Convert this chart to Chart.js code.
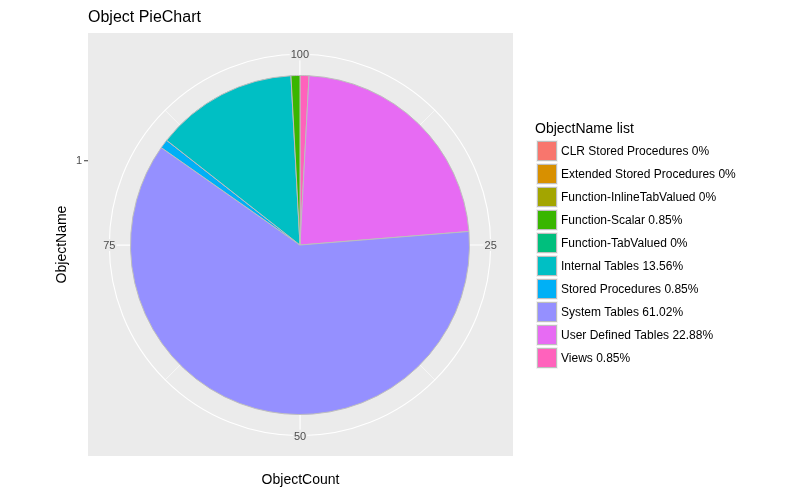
<!DOCTYPE html>
<html>
<head>
<meta charset="utf-8">
<title>Object PieChart</title>
<script src="https://cdn.jsdelivr.net/npm/chart.js@4/dist/chart.umd.min.js"></script>
<style>
    html, body { margin: 0; padding: 0; background: #fff; }
    canvas { display: block; }
</style>
</head>
<body>
<canvas id="mainChart" width="800" height="494"></canvas>
<script>
// Data, in legend order
const objectNames = [
    'CLR Stored Procedures',
    'Extended Stored Procedures',
    'Function-InlineTabValued',
    'Function-Scalar',
    'Function-TabValued',
    'Internal Tables',
    'Stored Procedures',
    'System Tables',
    'User Defined Tables',
    'Views'
];
const objectPercents = [0, 0, 0, 0.85, 0, 13.56, 0.85, 61.02, 22.88, 0.85];
const sliceColors = [
    '#F8766D', '#D89000', '#A3A500', '#39B600', '#00BF7D',
    '#00BFC4', '#00B0F6', '#9590FF', '#E76BF3', '#FF62BC'
];

// Axis breaks (theta = ObjectCount, radius = ObjectName)
const thetaBreaks = [25, 50, 75, 100];
const thetaMinorBreaks = [12.5, 37.5, 62.5, 87.5];
const radialBreakLabels = ['1'];

const PANEL = { left: 88, top: 33, right: 513, bottom: 456 };
const FONT = '"Liberation Sans", Arial, sans-serif';

// ggplot stacks the first level last, so the pie runs backwards from 12 o'clock
const pieLabels = objectNames.slice().reverse();
const pieValues = objectPercents.slice().reverse();
const pieColors = sliceColors.slice().reverse();
const total = objectPercents.reduce((a, b) => a + b, 0);

function geometry(chart) {
    const arc = chart.getDatasetMeta(0).data[0];
    const r = arc.outerRadius;
    return { cx: arc.x, cy: arc.y, r: r, rOuter: r * 0.45 / 0.4 };
}

function thetaAngle(v) {
    return v / total * Math.PI * 2 - Math.PI / 2;
}

const ggPanel = {
    id: 'ggPanel',
    beforeDatasetsDraw(chart) {
        const ctx = chart.ctx;
        const g = geometry(chart);
        ctx.save();
        ctx.fillStyle = '#EBEBEB';
        ctx.fillRect(PANEL.left, PANEL.top, PANEL.right - PANEL.left, PANEL.bottom - PANEL.top);

        ctx.strokeStyle = '#FFFFFF';
        // minor theta lines
        ctx.lineWidth = 0.6;
        thetaMinorBreaks.forEach(v => {
            const a = thetaAngle(v);
            ctx.beginPath();
            ctx.moveTo(g.cx, g.cy);
            ctx.lineTo(g.cx + Math.cos(a) * g.rOuter, g.cy + Math.sin(a) * g.rOuter);
            ctx.stroke();
        });
        // major theta lines
        ctx.lineWidth = 1.1;
        thetaBreaks.forEach(v => {
            const a = thetaAngle(v);
            ctx.beginPath();
            ctx.moveTo(g.cx, g.cy);
            ctx.lineTo(g.cx + Math.cos(a) * g.rOuter, g.cy + Math.sin(a) * g.rOuter);
            ctx.stroke();
        });
        // radial grid circles
        ctx.beginPath();
        ctx.arc(g.cx, g.cy, g.r * 0.5, 0, Math.PI * 2);
        ctx.stroke();
        ctx.beginPath();
        ctx.arc(g.cx, g.cy, g.rOuter, 0, Math.PI * 2);
        ctx.stroke();
        ctx.restore();
    },
    afterDatasetsDraw(chart) {
        const ctx = chart.ctx;
        const g = geometry(chart);
        ctx.save();

        // theta tick labels sit on the outer circle
        ctx.font = '11px ' + FONT;
        ctx.textAlign = 'center';
        ctx.textBaseline = 'middle';
        thetaBreaks.forEach(v => {
            const a = thetaAngle(v);
            const x = g.cx + Math.cos(a) * g.rOuter;
            const y = g.cy + Math.sin(a) * g.rOuter;
            const txt = String(v);
            const w = ctx.measureText(txt).width;
            ctx.fillStyle = '#EBEBEB';
            ctx.fillRect(x - w / 2 - 1, y - 6, w + 2, 12);
            ctx.fillStyle = '#4D4D4D';
            ctx.fillText(txt, x, y + 1);
        });

        // radial axis (ObjectName) on the left
        radialBreakLabels.forEach((lab, i) => {
            const y = g.cy - g.r * 0.5 * (i + 1);
            ctx.strokeStyle = '#333333';
            ctx.lineWidth = 1;
            ctx.beginPath();
            ctx.moveTo(PANEL.left - 4, y + 0.5);
            ctx.lineTo(PANEL.left, y + 0.5);
            ctx.stroke();
            ctx.fillStyle = '#4D4D4D';
            ctx.textAlign = 'right';
            ctx.fillText(lab, PANEL.left - 6, y + 1);
        });

        // titles
        ctx.fillStyle = '#000000';
        ctx.textAlign = 'left';
        ctx.textBaseline = 'alphabetic';
        ctx.font = '16px ' + FONT;
        ctx.fillText('Object PieChart', PANEL.left, 22);

        ctx.font = '14px ' + FONT;
        ctx.textAlign = 'center';
        ctx.fillText('ObjectCount', (PANEL.left + PANEL.right) / 2, 484);

        ctx.save();
        ctx.translate(66, (PANEL.top + PANEL.bottom) / 2);
        ctx.rotate(-Math.PI / 2);
        ctx.fillText('ObjectName', 0, 0);
        ctx.restore();

        // legend
        ctx.textAlign = 'left';
        ctx.textBaseline = 'middle';
        ctx.font = '14px ' + FONT;
        ctx.fillText('ObjectName list', 535, 129);
        ctx.font = '12px ' + FONT;
        objectNames.forEach((name, i) => {
            const yc = 151 + i * 23;
            ctx.fillStyle = '#F2F2F2';
            ctx.fillRect(536, yc - 11, 22, 22);
            ctx.fillStyle = sliceColors[i];
            ctx.fillRect(537, yc - 10, 20, 20);
            ctx.strokeStyle = '#BEBEBE';
            ctx.lineWidth = 1;
            ctx.strokeRect(537.5, yc - 9.5, 19, 19);
            ctx.fillStyle = '#000000';
            ctx.fillText(name + ' ' + objectPercents[i] + '%', 561, yc + 1);
        });

        ctx.restore();
    }
};

new Chart(document.getElementById('mainChart'), {
    type: 'pie',
    data: {
        labels: pieLabels,
        datasets: [{
            data: pieValues,
            backgroundColor: pieColors,
            borderColor: '#BEBEBE',
            borderWidth: 1
        }]
    },
    options: {
        responsive: false,
        animation: false,
        events: [],
        layout: {
            padding: { left: 130, right: 330, top: 75, bottom: 79 }
        },
        plugins: {
            legend: { display: false },
            tooltip: { enabled: false },
            title: { display: false }
        }
    },
    plugins: [ggPanel]
});
</script>
</body>
</html>
